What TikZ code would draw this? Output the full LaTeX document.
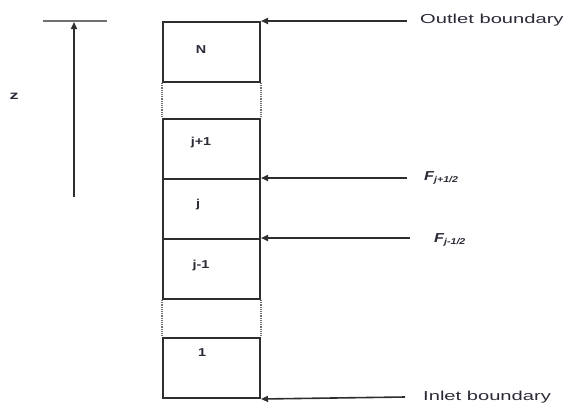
\documentclass[tikz,border=0pt]{standalone}
\usepackage{fontspec}
\setmainfont{Liberation Sans}
\usetikzlibrary{arrows.meta}
\definecolor{txt}{HTML}{2B2B38}
\definecolor{ln}{HTML}{2E2E2E}
\definecolor{gl}{HTML}{707070}
\tikzset{
  cell/.style={draw=ln, line width=2pt, minimum width=97pt, minimum height=60pt, inner sep=0pt, anchor=north west},
  celllab/.style={text=txt, font=\bfseries\fontsize{11.5}{13}\selectfont, inner sep=0pt},
  bdlab/.style={text=txt, font=\fontsize{13}{15}\selectfont, inner sep=0pt, anchor=west},
  flab/.style={text=txt, font=\bfseries\itshape\fontsize{13}{15}\selectfont, inner sep=0pt, anchor=west},
  pointer/.style={draw=ln, line width=1.6pt, -{Triangle[length=7pt,width=6pt]}},
  gap/.style={draw=gl, line width=1.8pt, dash pattern=on 1.2pt off 1pt},
}
\begin{document}
\begin{tikzpicture}[x=1pt,y=-1pt]
\useasboundingbox (0,0) rectangle (569,405);
% z axis
\coordinate (zt0) at (43,21);
\coordinate (zt1) at (107,21);
\draw[draw=gl, line width=2pt] (zt0) -- (zt1);
\coordinate (zb) at (74,197);
\coordinate (ztip) at (74,22);
\draw[pointer] (zb) -- (ztip);
\node[celllab, font=\bfseries\fontsize{12}{13}\selectfont] (zlab) at (14,96) {\scalebox{1.5}[1]{z}};
% cells
\node[cell] (bN) at (162,21) {};
\node[cell] (bj1) at (162,118) {};
\node[cell] (bj) at (162,178) {};
\node[cell] (bjm) at (162,238) {};
\node[cell] (b1) at (162,337) {};
% gaps
\draw[gap] (bN.south west) -- (bj1.north west);
\draw[gap] (bN.south east) -- (bj1.north east);
\draw[gap] (bjm.south west) -- (b1.north west);
\draw[gap] (bjm.south east) -- (b1.north east);
% cell labels
\node[celllab] (lN) at (201,50) {\scalebox{1.25}[1]{N}};
\node[celllab] (lj1) at (201,143) {\scalebox{1.25}[1]{j+1}};
\node[celllab] (lj) at (198,205) {\scalebox{1.25}[1]{j}};
\node[celllab] (ljm) at (201,266) {\scalebox{1.25}[1]{j-1}};
\node[celllab] (l1) at (202,353) {\scalebox{1.25}[1]{1}};
% pointers
\coordinate (pO) at (407,21);
\coordinate (pA) at (407,178);
\coordinate (pB) at (410,238);
\coordinate (pI) at (405,397);
\draw[pointer] (pO) -- (bN.north east);
\draw[pointer] (pA) -- (bj.north east);
\draw[pointer] (pB) -- (bjm.north east);
\draw[pointer] (pI) -- (b1.south east);
% labels
\node[bdlab] (tO) at (420,20) {\scalebox{1.55}[1]{Outlet boundary}};
\node[flab] (tA) at (424,178) {\scalebox{1.25}[1]{F\textsubscript{\fontsize{8.5}{9}\selectfont j+1/2}}};
\node[flab] (tB) at (434,240) {\scalebox{1.25}[1]{F\textsubscript{\fontsize{8.5}{9}\selectfont j-1/2}}};
\node[bdlab] (tI) at (423,397) {\scalebox{1.55}[1]{Inlet boundary}};
\end{tikzpicture}
\end{document}
